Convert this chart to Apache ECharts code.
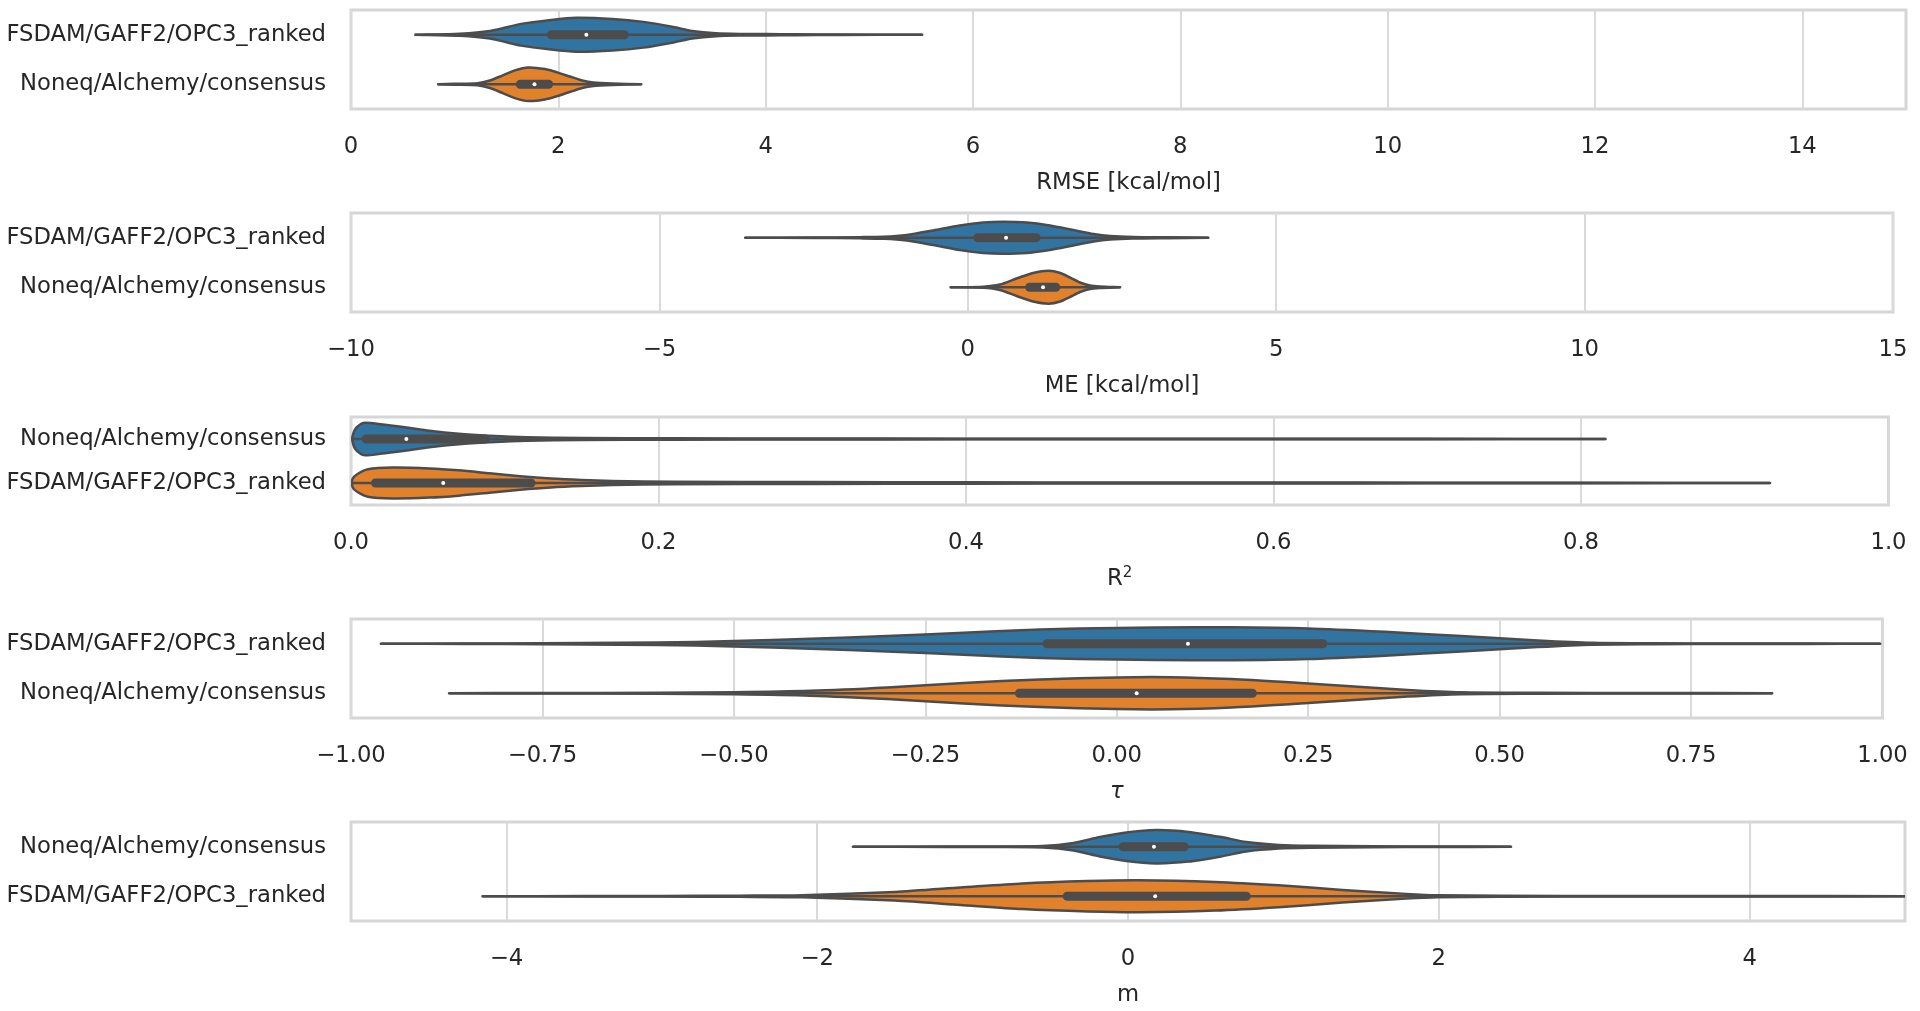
<!DOCTYPE html>
<html><head><meta charset="utf-8">
<script src="https://cdn.jsdelivr.net/npm/echarts@6/dist/echarts.min.js"></script>
<style>html,body{margin:0;padding:0;background:#fff}#c{width:1920px;height:1011px}</style>
</head><body><div id="c"></div>
<script>
// ---------------- DATA ----------------
const catsA = ['FSDAM/GAFF2/OPC3_ranked', 'Noneq/Alchemy/consensus'];
const catsB = ['Noneq/Alchemy/consensus', 'FSDAM/GAFF2/OPC3_ranked'];

// RMSE panel
const rmseTopX = [0.62,1.05,1.34,1.64,1.93,2.17,2.52,2.82,3.11,3.29,3.52,3.75,4.0,4.29,4.7,5.51];
const rmseTopD = [0,0.05,0.19,0.55,0.75,0.86,0.80,0.65,0.39,0.19,0.07,0.04,0.04,0.02,0.01,0];
const rmseTopBox = [0.62,1.89,2.27,2.68,5.51];
const rmseBotX = [0.84,1.0,1.22,1.34,1.46,1.58,1.71,1.87,1.99,2.11,2.23,2.34,2.52,2.80];
const rmseBotD = [0,0.02,0.05,0.19,0.44,0.70,0.85,0.77,0.60,0.39,0.19,0.09,0.04,0];
const rmseBotBox = [0.84,1.59,1.77,1.95,2.80];

// ME panel
const meTopX = [-3.61,-2.5,-1.75,-1.37,-0.99,-0.56,-0.13,0.25,0.57,0.96,1.33,1.71,2.04,2.31,2.68,3.22,3.9];
const meTopD = [0,0.01,0.03,0.05,0.14,0.37,0.62,0.77,0.81,0.77,0.62,0.39,0.19,0.09,0.04,0.02,0];
const meTopBox = [-3.61,0.09,0.62,1.18,3.90];
const meBotX = [-0.28,0.25,0.52,0.79,1.06,1.31,1.50,1.66,1.82,1.98,2.14,2.47];
const meBotD = [0,0.03,0.14,0.44,0.72,0.83,0.72,0.49,0.24,0.09,0.04,0];
const meBotBox = [-0.28,0.93,1.22,1.50,2.47];

// R2 panel
const r2TopX = [0.001,0.003,0.008,0.019,0.035,0.051,0.070,0.090,0.114,0.150,0.21,0.29,0.4,0.5,0.6,0.7,0.816];
const r2TopD = [0.15,0.6,0.91,0.84,0.67,0.47,0.30,0.19,0.10,0.06,0.04,0.03,0.02,0.014,0.011,0.009,0];
const r2TopBox = [0.001,0.007,0.036,0.09,0.816];
const r2BotX = [0.001,0.004,0.011,0.027,0.051,0.070,0.090,0.110,0.130,0.150,0.170,0.21,0.3,0.4,0.5,0.6,0.7,0.8,0.923];
const r2BotD = [0.23,0.50,0.78,0.88,0.83,0.72,0.55,0.38,0.25,0.17,0.12,0.07,0.05,0.04,0.03,0.026,0.017,0.011,0];
const r2BotBox = [0.001,0.013,0.060,0.12,0.923];

// tau panel
const tauTopX = [-0.961,-0.85,-0.75,-0.65,-0.55,-0.45,-0.35,-0.25,-0.15,-0.05,0.05,0.15,0.25,0.35,0.45,0.55,0.62,0.7,0.8,0.9,0.997];
const tauTopD = [0,0.01,0.025,0.05,0.09,0.19,0.32,0.47,0.65,0.77,0.82,0.83,0.77,0.60,0.39,0.17,0.05,0.025,0.013,0.008,0];
const tauTopBox = [-0.961,-0.097,0.093,0.275,0.997];
const tauBotX = [-0.872,-0.75,-0.6,-0.5,-0.4,-0.3,-0.2,-0.1,0.0,0.07,0.15,0.22,0.3,0.38,0.45,0.55,0.7,0.856];
const tauBotD = [0,0.013,0.025,0.05,0.12,0.29,0.52,0.70,0.80,0.81,0.72,0.57,0.37,0.17,0.05,0.025,0.013,0];
const tauBotBox = [-0.872,-0.133,0.026,0.183,0.856];

// m panel
const mTopX = [-1.77,-1.2,-0.88,-0.55,-0.35,-0.18,-0.01,0.18,0.39,0.60,0.76,0.97,1.17,1.58,1.99,2.465];
const mTopD = [0,0.01,0.018,0.038,0.19,0.49,0.72,0.84,0.75,0.49,0.24,0.09,0.045,0.025,0.013,0];
const mTopBox = [-1.77,-0.06,0.167,0.39,2.465];
const mBotX = [-4.154,-3.5,-3.0,-2.5,-2.1,-1.5,-1.08,-0.68,-0.26,0.07,0.56,0.97,1.38,1.79,1.99,2.4,3.22,4.04,5.0];
const mBotD = [0,0.01,0.018,0.03,0.05,0.22,0.44,0.65,0.77,0.81,0.72,0.55,0.32,0.12,0.05,0.025,0.015,0.01,0.005];
const mBotBox = [-4.154,-0.42,0.175,0.79,5.0];

// axes
const rmseTicks = [0,2,4,6,8,10,12,14];
const meTicks = [-10,-5,0,5,10,15];
const r2Ticks = [0,0.2,0.4,0.6,0.8,1.0];
const tauTicks = [-1,-0.75,-0.5,-0.25,0,0.25,0.5,0.75,1];
const mTicks = [-4,-2,0,2,4];

// ---------------- STYLE / LAYOUT ----------------
const BLUE = '#3274a1', ORANGE = '#e1812c', LINE = '#4c4c4c', TXT = '#262626';
const FONT = 'DejaVu Sans', FS = 22.7;

const panels = [
  {cats: catsA, min: 0, max: 15, ticks: rmseTicks, dec: 0, name: 'RMSE [kcal/mol]',
   grid: {left: 351, top: 10, right: 14, height: 99},
   v: [{x: rmseTopX, d: rmseTopD, box: rmseTopBox}, {x: rmseBotX, d: rmseBotD, box: rmseBotBox}]},
  {cats: catsA, min: -10, max: 15, ticks: meTicks, dec: 0, name: 'ME [kcal/mol]',
   grid: {left: 351, top: 213, right: 27, height: 99},
   v: [{x: meTopX, d: meTopD, box: meTopBox}, {x: meBotX, d: meBotD, box: meBotBox}]},
  {cats: catsB, min: 0, max: 1, ticks: r2Ticks, dec: 1, name: '{a|R}{b|2}',
   grid: {left: 351, top: 417, right: 31.5, height: 88},
   v: [{x: r2TopX, d: r2TopD, box: r2TopBox}, {x: r2BotX, d: r2BotD, box: r2BotBox}]},
  {cats: catsA, min: -1, max: 1, ticks: tauTicks, dec: 2, name: 'τ', italic: true,
   grid: {left: 351, top: 619, right: 37.5, height: 99},
   v: [{x: tauTopX, d: tauTopD, box: tauTopBox}, {x: tauBotX, d: tauBotD, box: tauBotBox}]},
  {cats: catsB, min: -5, max: 5, ticks: mTicks, dec: 0, name: 'm',
   grid: {left: 351, top: 822, right: 15, height: 99},
   v: [{x: mTopX, d: mTopD, box: mTopBox}, {x: mBotX, d: mBotD, box: mBotBox}]}
];
const colors = [BLUE, ORANGE];

function fmt(dec) {
  return function (val) {
    const s = Math.abs(val).toFixed(dec);
    return (val < -1e-9 ? '\u2212' : '') + s;
  };
}

function makeRender(violins) {
  return function (params, api) {
    const v = violins[params.dataIndex];
    const cat = api.value(1);
    const band = api.size([0, 1])[1];
    const maxHalf = band * 0.4;
    const top = [], bot = [];
    for (let i = 0; i < v.x.length; i++) {
      const p = api.coord([v.x[i], cat]);
      const h = v.d[i] * maxHalf;
      top.push([p[0], p[1] - h]);
      bot.unshift([p[0], p[1] + h]);
    }
    const y = api.coord([v.box[2], cat])[1];
    const px = function (val) { return api.coord([val, cat])[0]; };
    const bx1 = px(v.box[1]) + 4.5, bx2 = Math.max(px(v.box[3]) - 4.5, bx1 + 0.1);
    return {
      type: 'group',
      children: [
        {type: 'polygon', shape: {points: top.concat(bot), smooth: 0.25},
         style: {fill: colors[params.dataIndex], stroke: LINE, lineWidth: 2.5, lineJoin: 'round'}},
        {type: 'line', shape: {x1: px(v.box[0]), y1: y, x2: px(v.box[4]), y2: y},
         style: {stroke: LINE, lineWidth: 2.5}},
        {type: 'line', shape: {x1: bx1, y1: y, x2: bx2, y2: y},
         style: {stroke: LINE, lineWidth: 9, lineCap: 'round'}},
        {type: 'circle', shape: {cx: px(v.box[2]), cy: y, r: 2}, style: {fill: '#ffffff'}}
      ]
    };
  };
}

const option = {
  backgroundColor: '#ffffff',
  animation: false,
  textStyle: {fontFamily: FONT, color: TXT},
  grid: [], xAxis: [], yAxis: [], series: []
};

panels.forEach(function (p, i) {
  option.grid.push(Object.assign({show: true, borderColor: '#d6d6d6', borderWidth: 3, backgroundColor: '#ffffff'}, p.grid));
  option.xAxis.push({
    type: 'value', gridIndex: i, min: p.min, max: p.max,
    name: p.name, nameLocation: 'middle', nameGap: 61,
    nameTextStyle: {fontSize: FS, color: TXT, fontFamily: FONT, lineHeight: 26,
      fontStyle: p.italic ? 'italic' : 'normal',
      rich: {a: {fontSize: FS, color: TXT, fontFamily: FONT, lineHeight: 26},
             b: {fontSize: 15, color: TXT, fontFamily: FONT, lineHeight: 14, verticalAlign: 'top'}}},
    axisLine: {show: false},
    axisTick: {show: false, customValues: p.ticks},
    axisLabel: {customValues: p.ticks, formatter: fmt(p.dec), fontSize: FS, color: TXT,
      fontFamily: FONT, margin: 25.5, lineHeight: 26},
    splitLine: {show: true, lineStyle: {color: '#dadada', width: 2}}
  });
  option.yAxis.push({
    type: 'category', gridIndex: i, data: p.cats, inverse: true,
    axisLine: {show: false}, axisTick: {show: false}, splitLine: {show: false},
    axisLabel: {fontSize: FS, color: TXT, fontFamily: FONT, margin: 25, padding: [5, 0, 0, 0]}
  });
  option.series.push({
    type: 'custom', xAxisIndex: i, yAxisIndex: i, clip: true,
    encode: {x: 0, y: 1},
    data: [[p.v[0].box[2], 0], [p.v[1].box[2], 1]],
    renderItem: makeRender(p.v)
  });
});

const chart = echarts.init(document.getElementById('c'), null, {renderer: 'canvas'});
chart.setOption(option);
</script>
</body></html>
